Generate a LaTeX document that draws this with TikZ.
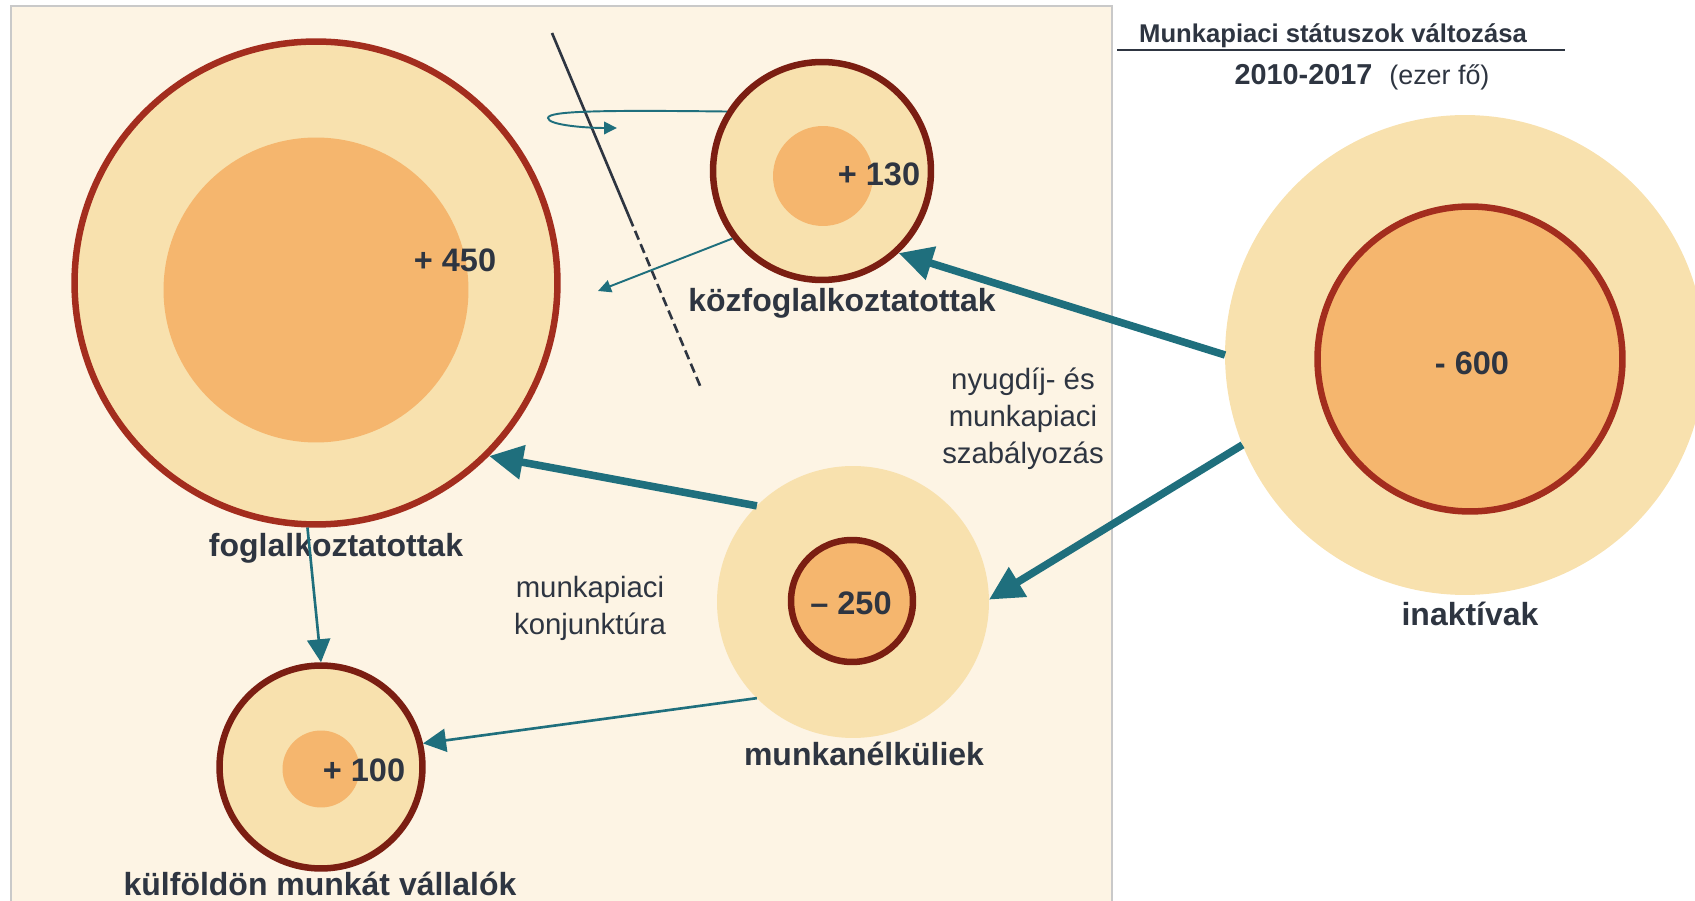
\documentclass[tikz,border=0pt]{standalone}
\usepackage{fontspec}
\setmainfont{Liberation Sans}
\usetikzlibrary{arrows.meta}
\usetikzlibrary{positioning}
\usetikzlibrary{calc}

\definecolor{paper}{HTML}{FDF4E4}
\definecolor{frame}{HTML}{C9C9C9}
\definecolor{pale}{HTML}{F8E1AE}
\definecolor{peach}{HTML}{F5B66E}
\definecolor{rimred}{HTML}{A32D1E}
\definecolor{rimdark}{HTML}{7B1E12}
\definecolor{flowteal}{HTML}{1F6F7D}
\definecolor{ink}{HTML}{2E3541}

\begin{document}
\begin{tikzpicture}[x=0.02cm,y=-0.02cm,
    halo/.style={circle,fill=pale,inner sep=0pt,outer sep=0pt},
    ring/.style={circle,draw=#1,line width=3.7pt,fill=pale,inner sep=0pt},
    ring/.default=rimred,
    core/.style={circle,fill=peach,inner sep=0pt},
    num/.style={font=\bfseries\fontsize{18.5}{22}\selectfont,text=ink},
    tag/.style={font=\bfseries\fontsize{18.2}{22}\selectfont,text=ink},
    note/.style={font=\fontsize{16.7}{21}\selectfont,text=ink,align=center},
    flow/.style={-{Triangle[length=0.68cm,width=0.66cm]},line width=4.3pt,draw=flowteal},
    leak/.style={-{Triangle[length=0.46cm,width=0.46cm]},line width=1.5pt,draw=flowteal},
    drift/.style={-{Triangle[length=0.26cm,width=0.25cm]},line width=1.1pt,draw=flowteal}]
    \useasboundingbox (0,0) rectangle (1695,901);
    \clip (0,0) rectangle (1695,901);
    \draw[fill=paper,draw=frame,line width=0.8pt] (11,6) rectangle (1112,910);

    \node[ring,minimum size=9.66cm] (fogl) at (316,283) {};
    \node[core,minimum size=6.1cm] (fogl_c) at (316,290) {};
    \node[ring=rimdark,minimum size=4.36cm] (kozf) at (822,171) {};
    \node[core,minimum size=2cm] (kozf_c) at (823,176) {};
    \node[halo,minimum size=9.6cm] (inakt) at (1465,355) {};
    \node[ring,fill=peach,minimum size=6.1cm] (inakt_c) at (1470,359) {};
    \node[halo,minimum size=5.44cm] (mun) at (853,602) {};
    \node[ring=rimdark,fill=peach,minimum size=2.44cm] (mun_c) at (852,601) {};
    \node[ring=rimdark,minimum size=4.06cm] (kulf) at (321,767) {};
    \node[core,minimum size=1.54cm] (kulf_c) at (321,769) {};

    \node[num] (n_fogl) at (455,260) {+ 450};
    \node[num] (n_kozf) at (879,174) {+ 130};
    \node[num] (n_inakt) at (1472,363) {- 600};
    \node[num] (n_mun) at (851,603) {– 250};
    \node[num] (n_kulf) at (364,770) {+ 100};

    \node[tag] (t_fogl) at (336,548) {foglalkoztatottak};
    \node[tag] (t_kozf) at (842,303) {közfoglalkoztatottak};
    \node[tag] (t_inakt) at (1470,614) {inaktívak};
    \node[tag] (t_mun) at (864,754) {munkanélküliek};
    \node[tag] (t_kulf) at (320,884) {külföldön munkát vállalók};

    \node[note] (t_konj) at (590,608) {munkapiaci\\konjunktúra};
    \node[note] (t_szab) at (1023,419) {nyugdíj- és\\munkapiaci\\szabályozás};

    \node[font=\bfseries\fontsize{14.6}{18}\selectfont,text=ink] (title) at (1333,36) {Munkapiaci státuszok változása};
    \draw[ink,line width=1.1pt] (1117,50) -- (1565,50);
    \node[text=ink] (years) at (1362,77) {{\bfseries\fontsize{16.4}{20}\selectfont 2010-2017}\hspace{0.34cm}{\fontsize{15.3}{20}\selectfont (ezer fő)}};

    \coordinate (cut_a) at (552,33);
    \coordinate (cut_b) at (701,388);
    \draw[ink,line width=1.5pt] (cut_a) -- ($(cut_a)!0.52!(cut_b)$);
    \draw[ink,line width=1.5pt,dash pattern=on 5.4pt off 2.8pt] ($(cut_a)!0.52!(cut_b)$) -- (cut_b);

    \draw[flow] (inakt.180) -- (kozf.-47);
    \draw[flow] (inakt.202) -- (mun.1);
    \draw[flow] (mun.135) -- (fogl.-45);
    \draw[leak] (fogl.-92) -- (kulf.90);
    \draw[leak] (mun.-135) -- (kulf.13);
    \coordinate (back) at (598,291);
    \draw[drift] (kozf.217) -- (back);
    \coordinate (spin) at (617,128);
    \draw[drift] (kozf.148) .. controls (600,110) and (548,111) .. (548,118) .. controls (548,125) and (585,128) .. (spin);
\end{tikzpicture}
\end{document}
